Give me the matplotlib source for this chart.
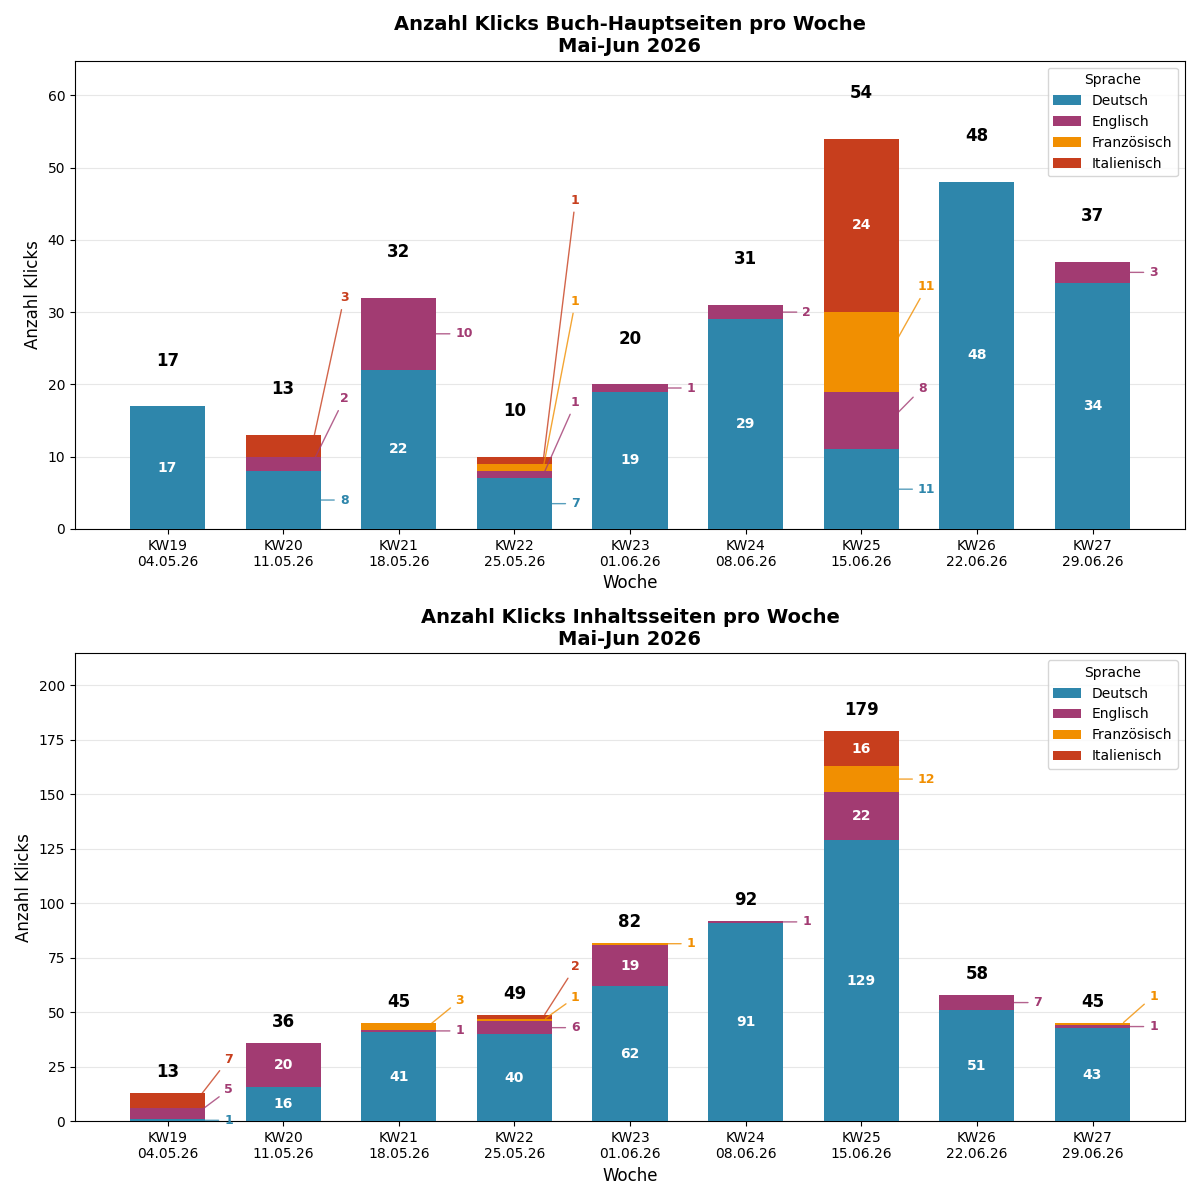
import numpy as np
import matplotlib
matplotlib.use('Agg')
import matplotlib.pyplot as plt

wochen = ['KW19\n04.05.26', 'KW20\n11.05.26', 'KW21\n18.05.26', 'KW22\n25.05.26', 'KW23\n01.06.26',
          'KW24\n08.06.26', 'KW25\n15.06.26', 'KW26\n22.06.26', 'KW27\n29.06.26']
sprachen = ['Deutsch', 'Englisch', 'Französisch', 'Italienisch']
farben = ['#2E86AB', '#A23B72', '#F18F01', '#C73E1D']

# Buch-Hauptseiten
haupt_de = [17, 8, 22, 7, 19, 29, 11, 48, 34]
haupt_en = [0, 2, 10, 1, 1, 2, 8, 0, 3]
haupt_fr = [0, 0, 0, 1, 0, 0, 11, 0, 0]
haupt_it = [0, 3, 0, 1, 0, 0, 24, 0, 0]

# Inhaltsseiten
inhalt_de = [1, 16, 41, 40, 62, 91, 129, 51, 43]
inhalt_en = [5, 20, 1, 6, 19, 1, 22, 7, 1]
inhalt_fr = [0, 0, 3, 1, 1, 0, 12, 0, 1]
inhalt_it = [7, 0, 0, 2, 0, 0, 16, 0, 0]

breite = 0.65
abstand = 14      # min. Abstand der Aussenlabels
grenze = 15       # ab diesem Wert Label im Balken


def zeichne(ax, daten, titel, total_off):
    x = np.arange(len(wochen))
    daten = np.array(daten, dtype=float)
    bottom = np.zeros(len(wochen))
    last_lbl = np.full(len(wochen), -np.inf)
    for i, (name, c) in enumerate(zip(sprachen, farben)):
        werte = daten[i]
        z = 10 - 2 * i
        ax.bar(x, werte, breite, bottom=bottom, color=c, label=name, zorder=z)
        for j, v in enumerate(werte):
            if v <= 0:
                continue
            mitte = bottom[j] + v / 2
            if v >= grenze:
                ax.text(x[j], mitte, str(int(v)), ha='center', va='center',
                        color='white', fontsize=10, fontweight='bold', zorder=20)
            else:
                ly = max(mitte, last_lbl[j] + abstand)
                last_lbl[j] = ly
                ax.annotate(str(int(v)), xy=(x[j] + 0.25, mitte),
                            xytext=(x[j] + 0.49, ly), ha='left', va='center',
                            color=c, fontsize=9, fontweight='bold',
                            arrowprops=dict(arrowstyle='-', color=c, lw=1, alpha=0.8),
                            zorder=z - 1)
        bottom += werte
    for j, t in enumerate(bottom):
        ax.text(x[j], t + total_off, str(int(t)), ha='center', va='center',
                fontsize=12, fontweight='bold', zorder=20)
    ax.set_xticks(x)
    ax.set_xticklabels(wochen)
    ax.set_xlim(-0.8, 8.8)
    ax.set_ylim(0, bottom.max() * 1.2)
    ax.set_xlabel('Woche', fontsize=12)
    ax.set_ylabel('Anzahl Klicks', fontsize=12)
    ax.set_title(titel, fontsize=14, fontweight='bold')
    ax.grid(axis='y', alpha=0.3)
    ax.set_axisbelow(True)
    ax.legend(title='Sprache', loc='upper right')


fig, (ax1, ax2) = plt.subplots(2, 1, figsize=(12, 12), dpi=100)
zeichne(ax1, [haupt_de, haupt_en, haupt_fr, haupt_it],
        'Anzahl Klicks Buch-Hauptseiten pro Woche\nMai-Jun 2026', 6.3)
zeichne(ax2, [inhalt_de, inhalt_en, inhalt_fr, inhalt_it],
        'Anzahl Klicks Inhaltsseiten pro Woche\nMai-Jun 2026', 9.6)
plt.subplots_adjust(left=0.0625, right=0.9875, top=0.9495, bottom=0.0655, hspace=0.265)
plt.savefig('out.png')
